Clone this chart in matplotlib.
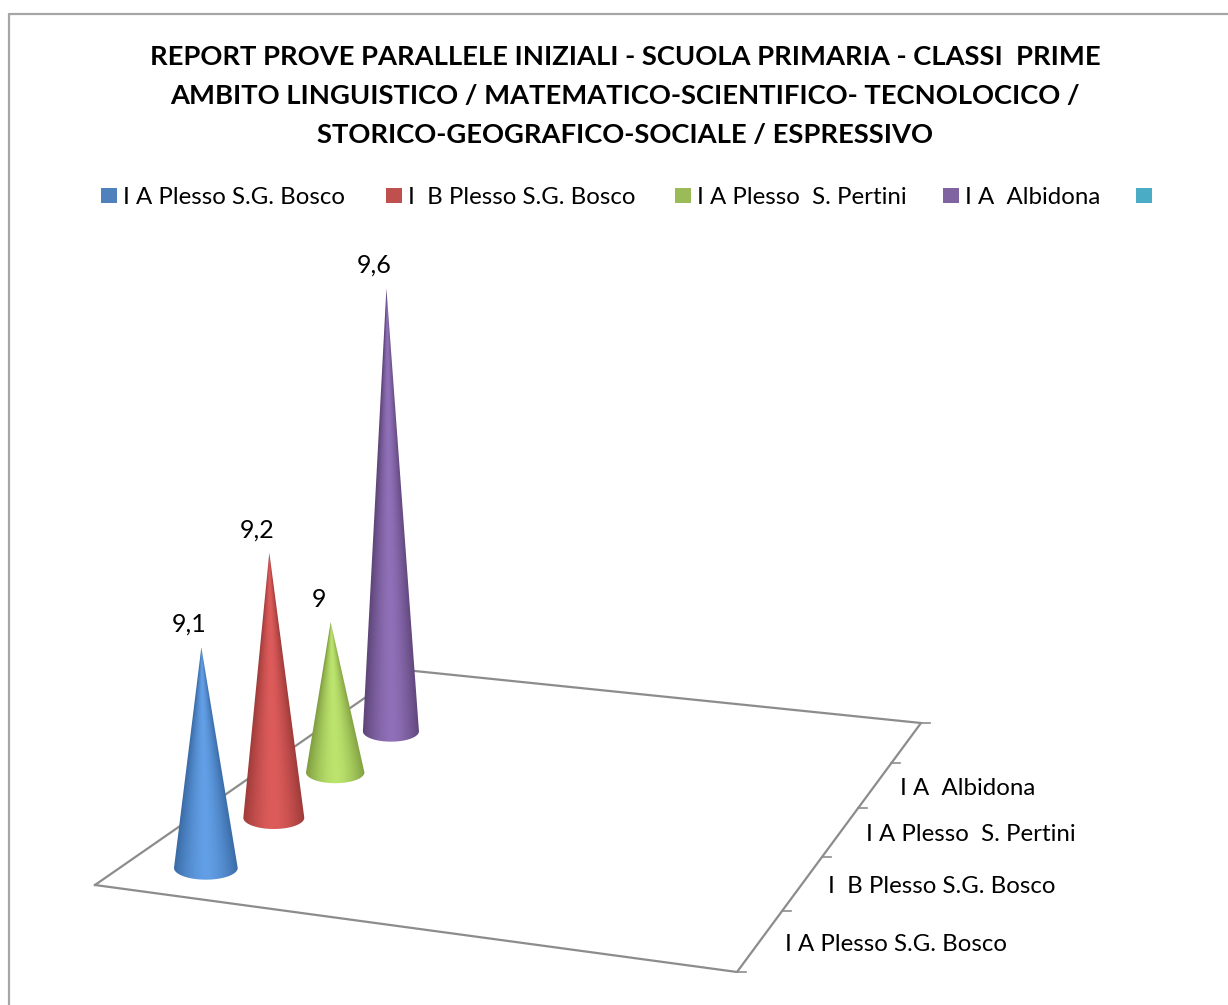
import numpy as np
import matplotlib
matplotlib.use("Agg")
from matplotlib import pyplot as plt
from matplotlib.colors import to_rgb
from matplotlib.patches import Polygon, Rectangle

title_lines = [
    "REPORT PROVE PARALLELE INIZIALI - SCUOLA PRIMARIA - CLASSI  PRIME",
    "AMBITO LINGUISTICO / MATEMATICO-SCIENTIFICO- TECNOLOCICO /",
    "STORICO-GEOGRAFICO-SOCIALE / ESPRESSIVO",
]
series_names = ["I A Plesso S.G. Bosco", "I  B Plesso S.G. Bosco",
                "I A Plesso  S. Pertini", "I A  Albidona", ""]
values = [9.1, 9.2, 9.0, 9.6]
value_labels = ["9,1", "9,2", "9", "9,6"]
legend_colors = ["#4F81BD", "#C0504D", "#9BBB59", "#8064A2", "#4BACC6"]
cone_light = ["#629FE6", "#DD5C5B", "#BDE46E", "#9070B8"]
cone_dark = ["#3A6BA6", "#9E3B39", "#7F9E40", "#5E4579"]

# floor corners in picture pixels: front left, front right, back right, back left
floor_px = np.array([[95, 885], [737, 972], [921, 723], [405, 670]], dtype=float)
depth_slots = len(series_names)
value_floor = 8.71
legend_x = [101, 386, 675, 943, 1136]
label_x = [785, 828, 866, 900]
label_y = [944, 886, 834, 788]

plt.rcParams["font.family"] = ["Lato", "DejaVu Sans"]


def homography(px):
    src = [(0, 0), (1, 0), (1, 1), (0, 1)]
    rows = []
    for (x, y), (X, Y) in zip(src, px):
        rows.append([x, y, 1, 0, 0, 0, -x * X, -y * X, X])
        rows.append([0, 0, 0, x, y, 1, -x * Y, -y * Y, Y])
    rows = np.array(rows)
    h = np.linalg.solve(rows[:, :8], rows[:, 8])
    return np.append(h, 1).reshape(3, 3)


H = homography(floor_px)


def floor(u, v):
    # u across the floor 0..1, v depth in series slots
    p = H @ np.array([u, v / depth_slots, 1.0])
    return p[:2] / p[2]


def local_scale(u, v):
    return np.linalg.norm(floor(u + 0.01, v) - floor(u, v)) / 0.01


def draw_cone(ax, c, a, b, apex, light, dark, zorder):
    x0, x1 = c[0] - a - 1, c[0] + a + 1
    y0, y1 = apex[1] - 1, c[1] + b + 1
    xs = np.arange(x0, x1, 0.5)
    ys = np.arange(y0, y1, 0.5)
    X, Y = np.meshgrid(xs, ys)
    f = np.clip((Y - apex[1]) / (c[1] - apex[1]), 0.001, 1)
    axis_x = apex[0] + (c[0] - apex[0]) * f
    t = np.clip(np.abs(X - axis_x) / (a * f), 0, 1) ** 1.6
    img = light[None, None, :] * (1 - t[..., None]) + dark[None, None, :] * t[..., None]
    im = ax.imshow(img, extent=(x0, x1, y1, y0), origin="upper", aspect="auto",
                   interpolation="bilinear", zorder=zorder)
    theta = np.linspace(0, np.pi, 61)
    rim = np.column_stack([c[0] + a * np.cos(theta), c[1] + b * np.sin(theta)])
    outline = Polygon(np.vstack([apex, rim]), closed=True, transform=ax.transData)
    im.set_clip_path(outline)


fig = plt.figure(figsize=(12.28, 10.05), dpi=100)
ax = fig.add_axes([0, 0, 1, 1])

# chart border
ax.plot([9, 9, 1228], [1005, 14, 14], color="#A6A6A6", lw=1.6)

for i, line in enumerate(title_lines):
    ax.text(625, 57 + i * 39, line, ha="center", va="center", fontsize=19.75,
            fontweight="bold", color="black")

for x, name, col in zip(legend_x, series_names, legend_colors):
    ax.add_patch(Rectangle((x, 188), 16, 15, color=col, lw=0))
    if name:
        ax.text(x + 22, 197, name, ha="left", va="center", fontsize=17.3, color="black")

# floor
grey = "#8C8C8C"
corners = [floor(0, 0), floor(1, 0), floor(1, depth_slots), floor(0, depth_slots)]
loop = np.array(corners + corners[:1])
ax.plot(loop[:, 0], loop[:, 1], color=grey, lw=1.6, zorder=1)
for v in range(depth_slots + 1):
    p = floor(1, v)
    ax.plot([p[0], p[0] + 9], [p[1], p[1]], color=grey, lw=1.2, zorder=1)
for x, y, name in zip(label_x, label_y, series_names):
    ax.text(x, y, name, ha="left", va="center", fontsize=17.3, color="black")

# cones, back to front
for i in reversed(range(len(values))):
    v = i + 0.5
    c = floor(0.124, v)
    a = 0.0535 * local_scale(0.124, v)
    b = 0.37 * a
    height = a * 17.75 * (values[i] - value_floor)
    apex = c + np.array([-4.5, -height])
    draw_cone(ax, c, a, b, apex, np.array(to_rgb(cone_light[i])),
              np.array(to_rgb(cone_dark[i])), 3 + len(values) - i)
    ax.text(apex[0] - 12, apex[1] - 23, value_labels[i], ha="center", va="center",
            fontsize=18, color="black")

ax.set_xlim(0, 1228)
ax.set_ylim(1005, 0)
ax.axis("off")
fig.savefig("out.png", dpi=100)
